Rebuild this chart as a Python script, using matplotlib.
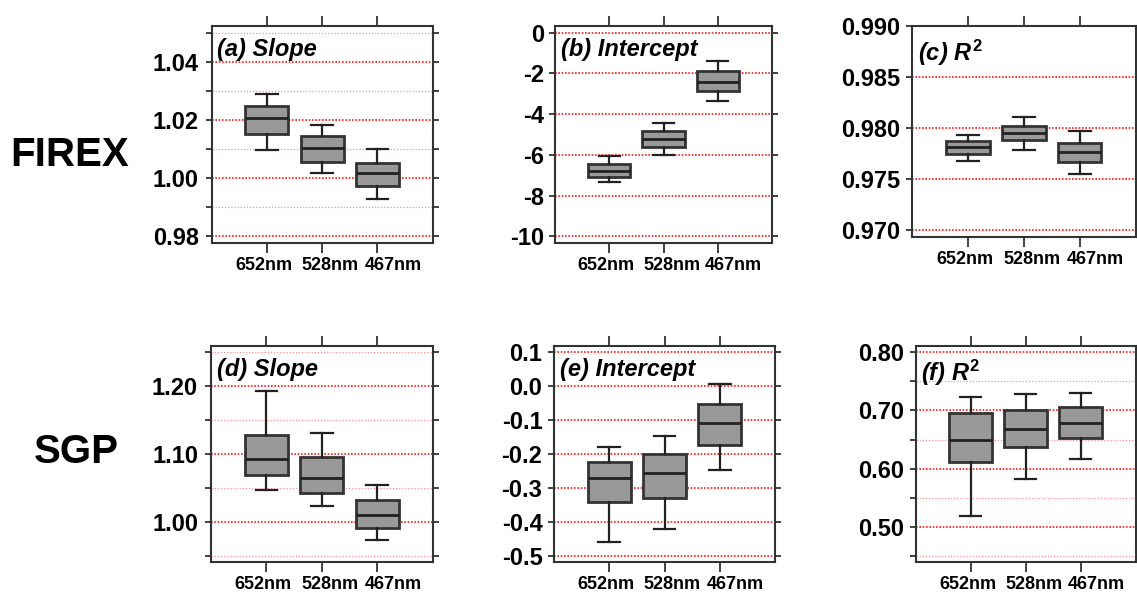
import matplotlib
matplotlib.use("Agg")
import matplotlib.pyplot as plt
import matplotlib.transforms as mtransforms
from matplotlib import font_manager
from matplotlib.ticker import FormatStrFormatter, FixedLocator

# ---------------- data ----------------
categories = ["652nm", "528nm", "467nm"]

# (a) FIREX slope
a_low = [1.0096, 1.0017, 0.9929]
a_q1 = [1.0151, 1.0057, 0.9974]
a_med = [1.0206, 1.0103, 1.0018]
a_q3 = [1.0249, 1.0144, 1.0053]
a_high = [1.0291, 1.0184, 1.0099]

# (b) FIREX intercept
b_low = [-7.35, -5.99, -3.34]
b_q1 = [-7.07, -5.60, -2.86]
b_med = [-6.77, -5.23, -2.40]
b_q3 = [-6.45, -4.81, -1.90]
b_high = [-6.04, -4.42, -1.41]

# (c) FIREX R^2
c_low = [0.97674, 0.97786, 0.97546]
c_q1 = [0.97750, 0.97884, 0.97664]
c_med = [0.97811, 0.97949, 0.97762]
c_q3 = [0.97870, 0.98022, 0.97858]
c_high = [0.97936, 0.98113, 0.97969]

# (d) SGP slope
d_low = [1.0462, 1.0226, 0.9724]
d_q1 = [1.0683, 1.0427, 0.9906]
d_med = [1.0928, 1.0648, 1.0097]
d_q3 = [1.1277, 1.0948, 1.0314]
d_high = [1.1930, 1.1302, 1.0535]

# (e) SGP intercept
e_low = [-0.4596, -0.4204, -0.2472]
e_q1 = [-0.3416, -0.3307, -0.1735]
e_med = [-0.2700, -0.2552, -0.1077]
e_q3 = [-0.2245, -0.2000, -0.0525]
e_high = [-0.1800, -0.1470, 0.0056]

# (f) SGP R^2
f_low = [0.5182, 0.5819, 0.6164]
f_q1 = [0.6112, 0.6365, 0.6530]
f_med = [0.6496, 0.6685, 0.6783]
f_q3 = [0.6950, 0.7007, 0.7059]
f_high = [0.7231, 0.7288, 0.7305]

row_labels = ["FIREX", "SGP"]
titles = ["(a) Slope", "(b) Intercept", r"(c) $\mathit{R}^{2}$",
          "(d) Slope", "(e) Intercept", r"(f) $\mathit{R}^{2}$"]

# ---------------- style ----------------
plt.rcParams["font.family"] = ["Liberation Sans", "DejaVu Sans"]
plt.rcParams["font.weight"] = "bold"
plt.rcParams["axes.unicode_minus"] = False
plt.rcParams["mathtext.fontset"] = "custom"
plt.rcParams["mathtext.rm"] = "Liberation Sans:bold"
plt.rcParams["mathtext.it"] = "Liberation Sans:bold:italic"
plt.rcParams["mathtext.bf"] = "Liberation Sans:bold"

names = {f.name for f in font_manager.fontManager.ttflist}
if "Liberation Sans Narrow" in names:
    xfam, xsize = "Liberation Sans Narrow", 15
else:
    xfam, xsize = "Liberation Sans", 13

W, H = 1137, 592
DPI = 100
fig = plt.figure(figsize=(W / DPI, H / DPI), dpi=DPI)

EDGE = "#333333"
label_shift_px = [-3, 8, 16]   # x-label offsets from their ticks, in pixels

def px_axes(x0, y0, x1, y1):
    return fig.add_axes([x0 / W, 1 - y1 / H, (x1 - x0) / W, (y1 - y0) / H])

panels = [
    dict(box=(211.7, 25.7, 432.7, 242.7), data=(a_low, a_q1, a_med, a_q3, a_high),
         ylim=(0.9778, 1.0525), major=[0.98, 1.00, 1.02, 1.04], minor=[0.99, 1.01, 1.03, 1.05],
         fmt="%.2f", pad=5),
    dict(box=(555.3, 25.7, 771.7, 242.7), data=(b_low, b_q1, b_med, b_q3, b_high),
         ylim=(-10.31, 0.34), major=[-10, -8, -6, -4, -2, 0], minor=[],
         fmt="%d", pad=4),
    dict(box=(912, 25.7, 1135.5, 237), data=(c_low, c_q1, c_med, c_q3, c_high),
         ylim=(0.96934, 0.99002), major=[0.970, 0.975, 0.980, 0.985, 0.990], minor=[],
         fmt="%.3f", pad=4),
    dict(box=(211, 345.7, 432.7, 562), data=(d_low, d_q1, d_med, d_q3, d_high),
         ylim=(0.9406, 1.2594), major=[1.00, 1.10, 1.20], minor=[0.95, 1.05, 1.15, 1.25],
         fmt="%.2f", pad=5),
    dict(box=(554, 345.7, 775, 562), data=(e_low, e_q1, e_med, e_q3, e_high),
         ylim=(-0.5186, 0.1195), major=[-0.5, -0.4, -0.3, -0.2, -0.1, 0.0, 0.1], minor=[],
         fmt="%.1f", pad=4),
    dict(box=(915.7, 345.7, 1135.5, 562), data=(f_low, f_q1, f_med, f_q3, f_high),
         ylim=(0.4393, 0.8114), major=[0.50, 0.60, 0.70, 0.80], minor=[0.45, 0.55, 0.65, 0.75],
         fmt="%.2f", pad=4),
]

positions = list(range(1, len(categories) + 1))

for p, title in zip(panels, titles):
    ax = px_axes(*p["box"])
    low, q1, med, q3, high = p["data"]
    stats = [dict(med=m, q1=a, q3=b, whislo=l, whishi=h, fliers=[])
             for l, a, m, b, h in zip(low, q1, med, q3, high)]
    ax.bxp(stats, positions=positions, widths=0.78, capwidths=0.39, patch_artist=True,
           showfliers=False,
           boxprops=dict(facecolor="#999999", edgecolor=EDGE, linewidth=2),
           medianprops=dict(color="#222222", linewidth=2),
           whiskerprops=dict(color="#222222", linewidth=1.6),
           capprops=dict(color="#222222", linewidth=1.6),
           zorder=3)
    ax.set_xlim(0, len(categories) + 1)
    ax.set_ylim(*p["ylim"])
    ax.set_xticks(positions)
    ax.set_xticklabels(categories)
    ax.yaxis.set_major_locator(FixedLocator(p["major"]))
    ax.yaxis.set_minor_locator(FixedLocator(p["minor"]))
    ax.yaxis.set_major_formatter(FormatStrFormatter(p["fmt"]))
    ax.grid(which="major", axis="y", color="#ff1a1a", linestyle=(0, (1, 1)),
            linewidth=1.2, zorder=1)
    if p["minor"]:
        ax.grid(which="minor", axis="y", color="#ff9090", linestyle=(0, (1, 1.5)),
                linewidth=0.9, zorder=1)
    ax.grid(which="both", axis="x", visible=False)
    ax.tick_params(axis="y", which="both", left=True, right=True, direction="out",
                   length=4.3, width=1.3, color=EDGE, pad=p["pad"], labelsize=17)
    ax.tick_params(axis="x", which="both", top=True, bottom=True, direction="out",
                   length=7.2, width=1.3, color=EDGE, pad=3, labelsize=xsize,
                   labelfontfamily=xfam)
    for lab, dx in zip(ax.get_xticklabels(), label_shift_px):
        off = mtransforms.ScaledTranslation(dx / DPI, 0, fig.dpi_scale_trans)
        lab.set_transform(lab.get_transform() + off)
    for s in ax.spines.values():
        s.set_color(EDGE)
        s.set_linewidth(1.5)
    ax.text(0.025, 0.945, title, transform=ax.transAxes, ha="left", va="top",
            fontsize=17, fontweight="bold", fontstyle="italic", zorder=5)

fig.text(69.7 / W, 1 - 155 / H, row_labels[0], ha="center", va="center",
         fontsize=29, fontweight="bold")
fig.text(76.7 / W, 1 - 451.7 / H, row_labels[1], ha="center", va="center",
         fontsize=29, fontweight="bold")

fig.savefig("out.png", dpi=DPI, facecolor="white")
